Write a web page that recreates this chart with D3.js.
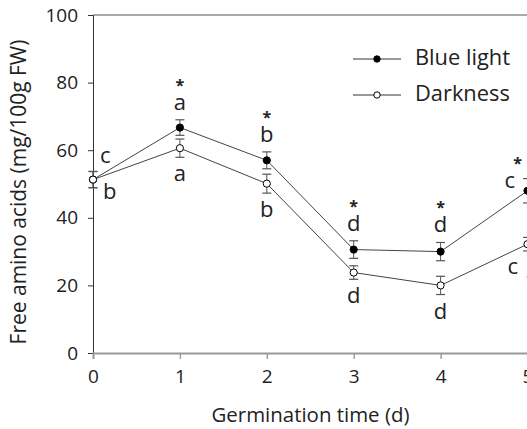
<!DOCTYPE html>
<html>
<head>
<meta charset="utf-8">
<script src="https://cdn.jsdelivr.net/npm/d3@7"></script>
<style>
  body { margin: 0; background: #fff; }
  svg text { font-family: "Open Sans", sans-serif; fill: #222; }
</style>
</head>
<body>
<div class="container"></div>
<script>
// germination days
var days = [0, 1, 2, 3, 4, 5];
var yTicks = [0, 20, 40, 60, 80, 100];

// free amino acids, mg/100g FW
var blueMean = [51.3, 66.7, 57.0, 30.6, 30.0, 48.0];
var blueErr  = [2.4, 2.3, 2.5, 2.6, 2.7, 3.6];
var darkMean = [51.3, 60.6, 50.1, 23.8, 20.0, 32.2];
var darkErr  = [2.4, 2.7, 2.8, 2.0, 2.7, 2.0];

// significance letters and asterisks
var blueLetters = ["c", "a", "b", "d", "d", "c"];
var darkLetters = ["b", "a", "b", "d", "d", "c"];
var stars = [false, true, true, true, true, true];

var W = 527, H = 429;
var margin = {left: 93, top: 15, bottom: 76};

var svg = d3.select('.container').append('svg')
	.attr('width', W)
	.attr('height', H);

var x = d3.scaleLinear().domain([0, 5]).range([margin.left, 527.5]);
var y = d3.scaleLinear().domain([0, 100]).range([H - margin.bottom, margin.top]);

// shrink or grow a text's font until it is about w px long
var fitText = function(t, w){
	var fs = parseFloat(t.style('font-size'));
	var len = t.node().getComputedTextLength();
	if (len > 0) t.style('font-size', (fs * w / len).toFixed(2) + 'px');
};

// top frame line
svg.append('line')
	.attr('x1', x(0)).attr('x2', W + 5)
	.attr('y1', y(100)).attr('y2', y(100))
	.attr('stroke', '#555').attr('stroke-width', 1);

// y axis
var yAxis = svg.append('g')
	.attr('transform', 'translate(' + x(0) + ',0)')
	.call(d3.axisLeft(y).tickValues(yTicks).tickSize(5).tickPadding(10).tickFormat(d3.format('d')));
yAxis.select('.domain').attr('stroke', '#333');
yAxis.selectAll('.tick line').attr('stroke', '#333');
yAxis.selectAll('text').style('font-size', '19px').attr('fill', '#222');

// x axis
var xAxis = svg.append('g')
	.attr('transform', 'translate(0,' + y(0) + ')')
	.call(d3.axisBottom(x).tickValues(days).tickSize(6).tickPadding(11).tickFormat(d3.format('d')));
xAxis.select('.domain').attr('stroke', '#999').attr('stroke-width', 1.8);
xAxis.selectAll('.tick line').attr('stroke', '#999').attr('stroke-width', 1.4);
xAxis.selectAll('text').style('font-size', '19px').attr('fill', '#222');

// axis titles
var xTitle = svg.append('text')
	.attr('x', 310.5).attr('y', 422)
	.attr('text-anchor', 'middle')
	.style('font-size', '18px')
	.text('Germination time (d)');
fitText(xTitle, 198);

var yTitle = svg.append('text')
	.attr('transform', 'translate(26,192) rotate(-90)')
	.attr('text-anchor', 'middle')
	.style('font-size', '18px')
	.text('Free amino acids (mg/100g FW)');
fitText(yTitle, 305);

var line = d3.line()
	.x(function(d, i){ return x(days[i]); })
	.y(function(d){ return y(d); });

var drawSeries = function(mean, err, fill){
	var g = svg.append('g');
	// error bars
	mean.forEach(function(m, i){
		var cx = x(days[i]);
		g.append('line')
			.attr('x1', cx).attr('x2', cx)
			.attr('y1', y(m - err[i])).attr('y2', y(m + err[i]))
			.attr('stroke', '#555').attr('stroke-width', 1);
		[m - err[i], m + err[i]].forEach(function(v){
			g.append('line')
				.attr('x1', cx - 4.5).attr('x2', cx + 4.5)
				.attr('y1', y(v)).attr('y2', y(v))
				.attr('stroke', '#555').attr('stroke-width', 1.2);
		});
	});
	g.append('path')
		.datum(mean)
		.attr('d', line)
		.attr('fill', 'none')
		.attr('stroke', '#444')
		.attr('stroke-width', 1);
	g.selectAll('circle')
		.data(mean)
		.enter().append('circle')
		.attr('cx', function(d, i){ return x(days[i]); })
		.attr('cy', function(d){ return y(d); })
		.attr('r', 3.6)
		.attr('fill', fill)
		.attr('stroke', '#000')
		.attr('stroke-width', 1);
};

drawSeries(blueMean, blueErr, '#000');
drawSeries(darkMean, darkErr, '#fff');

// letters
var labels = svg.append('g').style('font-size', '22px');
var last = days.length - 1;
days.forEach(function(d, i){
	var cx = x(d);
	var upX = cx, downX = cx, anchor = 'middle';
	var upY = y(blueMean[i] + blueErr[i]) - 10;
	var downY = y(darkMean[i] - darkErr[i]) + 24;
	var starX = cx;
	if (i === 0) {
		anchor = 'start';
		upX = cx + 7; downX = cx + 10;
		upY = y(blueMean[i] + blueErr[i]) - 8;
		downY = y(darkMean[i] - darkErr[i]) + 11;
	}
	if (i === last) {
		anchor = 'start';
		upX = cx - 23; downX = cx - 20;
		upY = y(blueMean[i]) - 3;
		downY = y(darkMean[i]) + 30;
		starX = cx - 10;
	}
	labels.append('text')
		.attr('x', upX).attr('y', upY)
		.attr('text-anchor', anchor)
		.text(blueLetters[i]);
	labels.append('text')
		.attr('x', downX).attr('y', downY)
		.attr('text-anchor', anchor)
		.text(darkLetters[i]);
	if (stars[i]) {
		labels.append('text')
			.attr('x', starX).attr('y', upY - 19)
			.attr('text-anchor', 'middle')
			.style('font-size', '16px')
			.style('font-weight', 'bold')
			.text('*');
	}
});
// blue asterisk peeking in at the right edge
svg.append('text')
	.attr('x', x(5) + 2).attr('y', y(darkMean[5]) + 41)
	.attr('text-anchor', 'middle')
	.style('font-size', '14px')
	.style('fill', '#3a6fd8')
	.text('*');

// legend
var legend = svg.append('g');
var legendItems = [{name: 'Blue light', fill: '#000'}, {name: 'Darkness', fill: '#fff'}];
legendItems.forEach(function(item, i){
	var ly = 59 + i * 36;
	legend.append('line')
		.attr('x1', 353).attr('x2', 401)
		.attr('y1', ly).attr('y2', ly)
		.attr('stroke', '#333').attr('stroke-width', 1);
	legend.append('circle')
		.attr('cx', 377).attr('cy', ly).attr('r', 3.2)
		.attr('fill', item.fill).attr('stroke', '#000');
	var t = legend.append('text')
		.attr('x', 415).attr('y', ly + 6)
		.style('font-size', '21px')
		.text(item.name);
	if (i === 0) fitText(t, 95);
	else t.style('font-size', legend.select('text').style('font-size'));
});
</script>
</body>
</html>
